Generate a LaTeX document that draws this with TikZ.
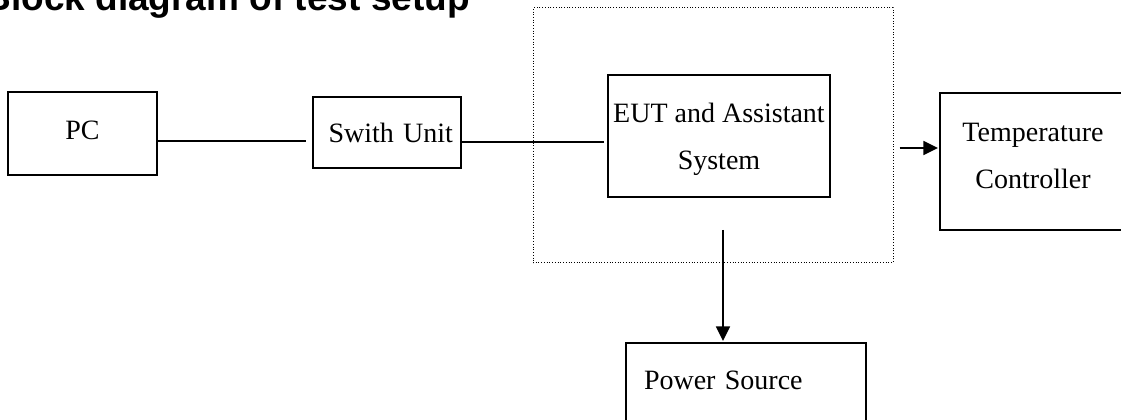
\documentclass[tikz,border=0pt]{standalone}
\usepackage{fontspec}
\setmainfont{Liberation Serif}
\newfontfamily\headfont{Liberation Sans}
\usetikzlibrary{arrows.meta,calc}
\newcommand{\pxu}{0.75pt}
\tikzset{
  box/.style ={rectangle, draw=black, line width=1.5pt, inner sep=0pt,
               font=\fontsize{21}{35.25}\selectfont, align=center},
  grp/.style ={rectangle, draw=black, line width=0.75pt,
               dash pattern=on 0.75pt off 1.3pt, inner sep=0pt},
  wire/.style={line width=1.3pt},
  ar/.style  ={-{Triangle[length=11pt,width=10.5pt]}, line width=1.3pt},
}
\begin{document}
\begin{tikzpicture}[x=0.75pt, y=-0.75pt]
\useasboundingbox (0,0) rectangle (1121,420);
\clip (0,0) rectangle (1121,420);
\node[anchor=base east, inner sep=0pt,
      font=\headfont\bfseries\fontsize{27.75}{33}\selectfont] (title) at (470,11) {Block diagram of test setup};

\node[grp, minimum width=360*\pxu, minimum height=255*\pxu] (encl) at (713,135.5) {};
\node[box, minimum width=149*\pxu, minimum height=83*\pxu, text depth=4.5pt] (pc) at (82.5,133.5) {PC};
\node[box, minimum height=71*\pxu, text width=132*\pxu, inner xsep=8*\pxu, align=right] (sw) at (387,132.5) {Swith Unit};
\node[box, minimum width=222*\pxu, minimum height=122*\pxu, text depth=0pt] (eut) at (719,136) {EUT and Assistant\\System};
\node[box, minimum width=186*\pxu, minimum height=137*\pxu, text depth=9pt] (tc) at (1033,161.5) {Temperature\\Controller};
\node[box, minimum height=82*\pxu, text width=204*\pxu, inner xsep=18*\pxu, align=left, text depth=6.1pt] (pw) at (746,384) {Power Source};

\draw[wire] ($(pc.east)+(0,7.5)$) -- ($(sw.west)+(-6,8.5)$);
\draw[wire] ($(sw.east)+(0,9.5)$) -- ($(eut.west)+(-3,6)$);
\draw[ar] ($(encl.east)+(6,12.5)$) -- ($(tc.west)+(-1,-13.5)$);
\draw[ar] ($(eut.south)+(4,32)$) -- ($(pw.north)+(-23,-1)$);
\end{tikzpicture}
\end{document}
